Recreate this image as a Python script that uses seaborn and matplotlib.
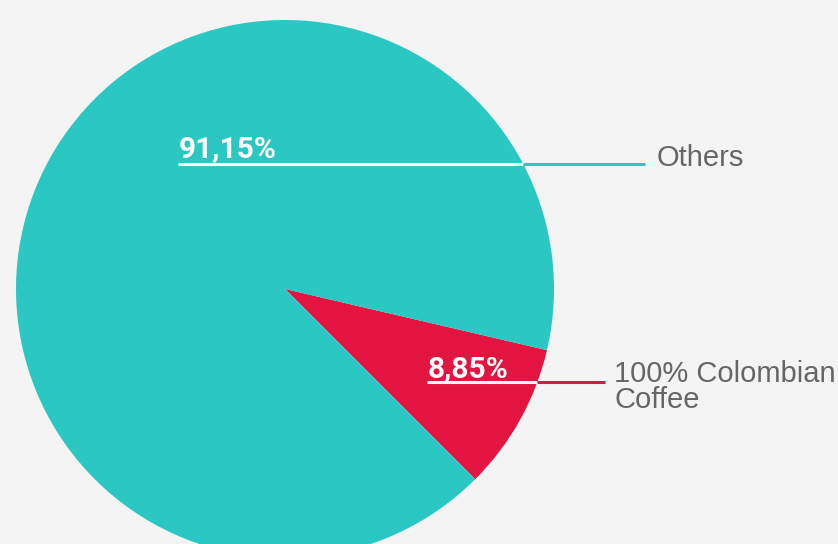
import numpy as np
import matplotlib
matplotlib.use("Agg")
import matplotlib.pyplot as plt
import seaborn as sns

# ---- data ----
categories = ["100% Colombian\nCoffee", "Others"]
values = [8.85, 91.15]
pct_labels = ["8,85%", "91,15%"]
colors = ["#e3143f", "#2bc7c3"]

sns.set_theme(style="white")
plt.rcParams['font.family'] = ['Liberation Sans', 'DejaVu Sans']

W, H = 838, 544
BG = "#f4f4f4"
fig = plt.figure(figsize=(W / 100, H / 100), dpi=100, facecolor=BG)
ax = fig.add_axes([0, 0, 1, 1])
ax.set_facecolor(BG)

def py(y):
    return H - y

cx, cy, R = 285, py(289), 269
ax.pie(values, colors=colors, startangle=-45, counterclock=True,
       center=(cx, cy), radius=R, wedgeprops=dict(linewidth=0))
ax.set_xlim(0, W)
ax.set_ylim(0, H)
ax.set_aspect("equal")
ax.axis("off")

# label layout (pixel positions in the picture)
label_layout = {
    "Others": dict(line_y=164, x0=178, x1=645, pct_base=157, txt_x=657, txt_base=166),
    "100% Colombian\nCoffee": dict(line_y=382, x0=427, x1=605, pct_base=377, txt_x=614, txt_base=382),
}

for cat, pct, col in zip(categories, pct_labels, colors):
    L = label_layout[cat]
    yl = py(L["line_y"])
    xe = cx + np.sqrt(R ** 2 - (yl - cy) ** 2)
    ax.plot([L["x0"], xe], [yl, yl], color="white", lw=2.2, solid_capstyle="butt")
    ax.plot([xe, L["x1"]], [yl, yl], color=col, lw=2.2, solid_capstyle="butt")
    ax.text(L["x0"] + 1, py(L["pct_base"]), pct, color="white", fontsize=21.5,
            fontweight="bold", family=["Roboto", "DejaVu Sans"], ha="left", va="baseline")
    lines = cat.split("\n")
    for i, t in enumerate(lines):
        ax.text(L["txt_x"], py(L["txt_base"] + 26 * i), t, color="#666666", fontsize=21,
                ha="left", va="baseline")

fig.savefig("out.png", dpi=100, facecolor=BG)
